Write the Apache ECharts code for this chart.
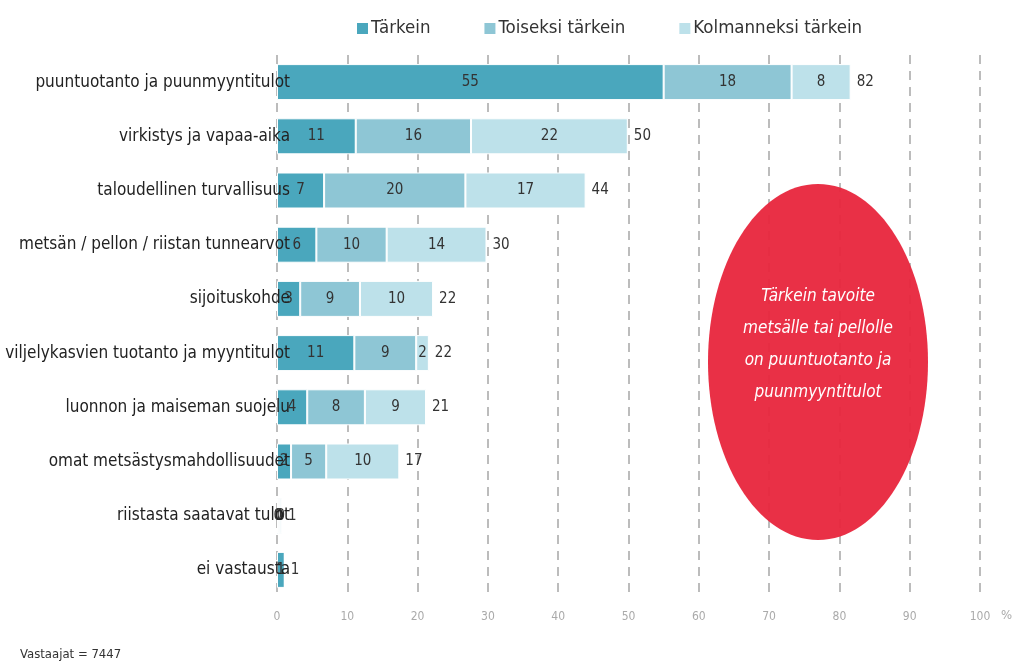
<!DOCTYPE html>
<html>
<head>
<meta charset="utf-8">
<script src="https://cdn.jsdelivr.net/npm/echarts@6/dist/echarts.min.js"></script>
<style>
  html, body { margin: 0; padding: 0; background: #fff; }
  #chart { width: 1013px; height: 664px; }
</style>
</head>
<body>
<div id="chart"></div>
<script>
// categories (top to bottom)
const categories = [
  'puuntuotanto ja puunmyyntitulot',
  'virkistys ja vapaa-aika',
  'taloudellinen turvallisuus',
  'metsän / pellon / riistan tunnearvot',
  'sijoituskohde',
  'viljelykasvien tuotanto ja myyntitulot',
  'luonnon ja maiseman suojelu',
  'omat metsästysmahdollisuudet',
  'riistasta saatavat tulot',
  'ei vastausta'
]
// % of respondents
const tarkein = [55.0, 11.2, 6.7, 5.6, 3.3, 11.0, 4.3, 2.0, 0.2, 1.1]
const toiseksi = [18.2, 16.4, 20.1, 10.0, 8.5, 8.8, 8.2, 5.0, 0.2, 0]
const kolmanneksi = [8.4, 22.3, 17.1, 14.2, 10.4, 1.8, 8.7, 10.4, 0.3, 0]
const xTicks = [0, 10, 20, 30, 40, 50, 60, 70, 80, 90, 100]

const colors = ['#4aa7bd', '#8ec6d5', '#bde1ea']
const font = "'Liberation Sans Narrow', 'DejaVu Sans Condensed', Roboto, sans-serif"

const totals = tarkein.map((v, i) => +(v + toiseksi[i] + kolmanneksi[i]).toFixed(1))

const segLabel = {
  show: true,
  position: 'inside',
  color: '#333',
  fontSize: 15,
  fontFamily: font,
  formatter: p => (p.value > 0 ? Math.round(p.value) : '')
}

function seg(name, data, color) {
  return {
    name: name,
    type: 'bar',
    stack: 'all',
    data: data,
    barWidth: 36,
    itemStyle: { color: color, borderColor: '#fff', borderWidth: 1 },
    label: segLabel,
    z: 3
  }
}

const chart = echarts.init(document.getElementById('chart'))
chart.setOption({
  animation: false,
  legend: {
    top: 14,
    left: 350,
    itemWidth: 13,
    itemHeight: 13,
    itemGap: 52,
    icon: 'rect',
    data: ['Tärkein', 'Toiseksi tärkein', 'Kolmanneksi tärkein'],
    textStyle: { color: '#333', fontSize: 18.5, fontFamily: font, padding: [0, 0, 0, -3] }
  },
  grid: { left: 277, right: 33, top: 55, bottom: 67, containLabel: false, outerBoundsMode: 'none' },
  xAxis: {
    type: 'value',
    min: 0,
    max: 100,
    interval: 10,
    axisLine: { show: false },
    axisTick: { show: false },
    axisLabel: {
      color: '#aaa',
      fontSize: 12,
      fontFamily: font,
      margin: 14,
      formatter: v => (xTicks.indexOf(v) > -1 ? v : '')
    },
    splitLine: {
      show: true,
      lineStyle: { color: '#a6a6a6', width: 1.5, type: [9, 7] }
    }
  },
  yAxis: {
    type: 'category',
    inverse: true,
    data: categories,
    axisLine: { show: false },
    axisTick: { show: false },
    axisLabel: {
      color: '#222',
      fontSize: 17,
      fontFamily: font,
      margin: -13
    },
    z: 5
  },
  series: [
    seg('Tärkein', tarkein, colors[0]),
    seg('Toiseksi tärkein', toiseksi, colors[1]),
    seg('Kolmanneksi tärkein', kolmanneksi, colors[2]),
    {
      name: 'yhteensä',
      type: 'bar',
      data: totals,
      barWidth: 36,
      barGap: '-100%',
      itemStyle: { color: 'rgba(0,0,0,0)' },
      label: {
        show: true,
        position: 'right',
        distance: 6,
        color: '#333',
        fontSize: 15,
        fontFamily: font,
        formatter: p => Math.round(p.value)
      },
      z: 2
    }
  ],
  graphic: [
    {
      type: 'ellipse',
      shape: { cx: 818, cy: 362, rx: 110, ry: 178 },
      style: { fill: '#e8283e', opacity: 0.96 },
      z: 10
    },
    {
      type: 'text',
      x: 818,
      y: 345,
      style: {
        text: 'Tärkein tavoite\nmetsälle tai pellolle\non puuntuotanto ja\npuunmyyntitulot',
        fill: '#fff',
        fontSize: 17,
        fontStyle: 'italic',
        fontFamily: font,
        lineHeight: 32,
        align: 'center',
        verticalAlign: 'middle'
      },
      z: 11
    },
    {
      type: 'text',
      left: 1001,
      top: 609,
      style: { text: '%', fill: '#aaa', fontSize: 13, fontFamily: font }
    },
    {
      type: 'text',
      left: 20,
      top: 648,
      style: { text: 'Vastaajat = 7447', fill: '#333', fontSize: 13, fontFamily: font }
    }
  ]
})
</script>
</body>
</html>
